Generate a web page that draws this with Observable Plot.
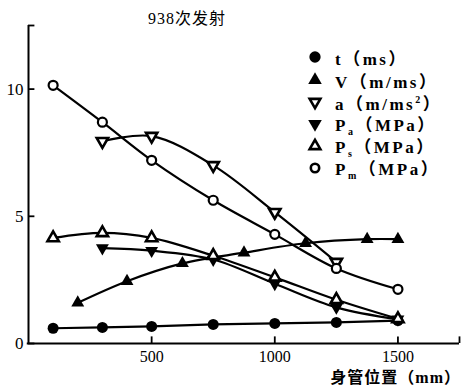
<!DOCTYPE html>
<html><head><meta charset="utf-8">
<script src="https://cdn.jsdelivr.net/npm/d3@7"></script>
<script src="https://cdn.jsdelivr.net/npm/@observablehq/plot@0.6"></script>
<style>
body{margin:0;background:#fff;}
#wrap{position:relative;width:461px;height:386px;font-family:"Liberation Serif",serif;}
#title{position:absolute;left:148px;top:5px;font-size:16px;letter-spacing:1px;font-family:"Liberation Serif","Noto Sans CJK SC",serif;color:#000;white-space:nowrap;}
#xlab{position:absolute;right:0px;top:364px;font-size:16px;font-weight:bold;font-family:"Liberation Serif","Noto Sans CJK SC",serif;white-space:nowrap;letter-spacing:1px;}
#legend{position:absolute;left:305px;top:47px;}
.row{position:absolute;left:0;height:20px;display:flex;align-items:center;white-space:nowrap;font-weight:bold;font-size:17px;letter-spacing:2.5px;font-family:"Liberation Serif","Noto Sans CJK SC",serif;}
.row svg{margin-right:10px;}
.row sub{font-size:10px;}
</style></head>
<body><div id="wrap"><div id="title"></div><div id="xlab"></div><div id="legend"></div></div>
<script>
const titleText = "938次发射";
const xLabel = "身管位置（mm）";
const xTicks = [500, 1000, 1500];
const yTicks = [0, 5, 10];
const xEnd = 1750, yEnd = 12.5;

const tX = [100, 300, 500, 750, 1000, 1250, 1500];
const tY = [0.6, 0.63, 0.67, 0.75, 0.79, 0.83, 0.9];
const vX = [200, 400, 625, 875, 1125, 1375, 1500];
const vY = [1.6, 2.45, 3.15, 3.57, 3.94, 4.1, 4.1];
const aX = [300, 500, 750, 1000, 1250];
const aY = [7.95, 8.15, 7.0, 5.16, 3.2];
const paX = [300, 500, 750, 1000, 1250, 1500];
const paY = [3.75, 3.65, 3.3, 2.35, 1.42, 0.95];
const psX = [100, 300, 500, 750, 1000, 1250, 1500];
const psY = [4.15, 4.35, 4.15, 3.45, 2.6, 1.72, 0.97];
const pmX = [100, 300, 500, 750, 1000, 1250, 1500];
const pmY = [10.15, 8.7, 7.2, 5.63, 4.29, 2.95, 2.13];

const legendLabels = ["t（ms）", "V（m/ms）", "a（m/ms<sup style='font-size:10px'>2</sup>）", "P<sub>a</sub>（MPa）", "P<sub>s</sub>（MPa）", "P<sub>m</sub>（MPa）"];

const zip = (xs, ys) => xs.map((x, i) => ({x, y: ys[i]}));
const t = zip(tX, tY), v = zip(vX, vY), a = zip(aX, aY), pa = zip(paX, paY), ps = zip(psX, psY), pm = zip(pmX, pmY);

const lineOpt = {x: "x", y: "y", stroke: "#000", strokeWidth: 2.2};
const plot = Plot.plot({
  width: 461, height: 386,
  marginLeft: 28, marginRight: 2, marginTop: 25, marginBottom: 43,
  x: {domain: [0, xEnd]},
  y: {domain: [0, yEnd]},
  style: {fontFamily: "Liberation Serif, serif", fontSize: "16px", color: "#000", background: "transparent"},
  marks: [
    Plot.ruleX([0], {y1: 0, y2: yEnd, strokeWidth: 2}),
    Plot.ruleY([0], {x1: -5, x2: xEnd, strokeWidth: 2}),
    Plot.ruleX([...xTicks, xEnd], {y1: 0, y2: 0.26, strokeWidth: 1.8}),
    Plot.ruleY([...yTicks, yEnd], {x1: 0, x2: 26, strokeWidth: 1.8}),
    Plot.axisX({ticks: xTicks, tickSize: 0, tickPadding: 7, tickFormat: d => String(d), label: null}),
    Plot.axisY({ticks: yTicks, tickSize: 0, tickPadding: 5, tickFormat: d => String(d), label: null, fontSize: 17}),
    Plot.line(t, {...lineOpt}),
    Plot.line(v, {...lineOpt, curve: "catmull-rom"}),
    Plot.line(a, {...lineOpt, curve: "catmull-rom"}),
    Plot.line(pa, {...lineOpt, curve: "catmull-rom"}),
    Plot.line(ps, {...lineOpt, curve: "catmull-rom"}),
    Plot.line(pm, {...lineOpt, curve: "catmull-rom"}),
    Plot.dot(t, {x: "x", y: "y", r: 5.5, fill: "#000"}),
    Plot.dot(v, {x: "x", y: "y", symbol: "triangle", r: 4.8, fill: "#000"}),
    Plot.dot(a, {x: "x", y: "y", symbol: "triangle", rotate: 180, r: 4.2, fill: "#fff", stroke: "#000", strokeWidth: 2.6}),
    Plot.dot(pa, {x: "x", y: "y", symbol: "triangle", rotate: 180, r: 4.8, fill: "#000"}),
    Plot.dot(ps, {x: "x", y: "y", symbol: "triangle", r: 4.2, fill: "#fff", stroke: "#000", strokeWidth: 2.6}),
    Plot.dot(pm, {x: "x", y: "y", r: 4.5, fill: "#fff", stroke: "#000", strokeWidth: 2.2})
  ]
});
const wrap = document.getElementById("wrap");
wrap.insertBefore(plot, wrap.firstChild);
document.getElementById("title").textContent = titleText;
document.getElementById("xlab").textContent = xLabel;

const symbols = [
  {sym: d3.symbolCircle, fill: "#000", stroke: "none", rot: 0, size: 100},
  {sym: d3.symbolTriangle, fill: "#000", stroke: "none", rot: 0, size: 80},
  {sym: d3.symbolTriangle, fill: "#fff", stroke: "#000", rot: 180, size: 50},
  {sym: d3.symbolTriangle, fill: "#000", stroke: "none", rot: 180, size: 80},
  {sym: d3.symbolTriangle, fill: "#fff", stroke: "#000", rot: 0, size: 50},
  {sym: d3.symbolCircle, fill: "#fff", stroke: "#000", rot: 0, size: 55}
];
const rowTops = [0, 23, 45, 67, 89, 111];
const leg = document.getElementById("legend");
legendLabels.forEach((lab, i) => {
  const row = document.createElement("div");
  row.className = "row";
  row.style.top = rowTops[i] + "px";
  const s = symbols[i];
  const path = d3.symbol(s.sym, s.size)();
  row.innerHTML = `<svg width="20" height="20" viewBox="-10 -10 20 20"><path d="${path}" transform="rotate(${s.rot})" fill="${s.fill}" stroke="${s.stroke}" stroke-width="2.6"/></svg><span>${lab}</span>`;
  leg.appendChild(row);
});
</script></body></html>
